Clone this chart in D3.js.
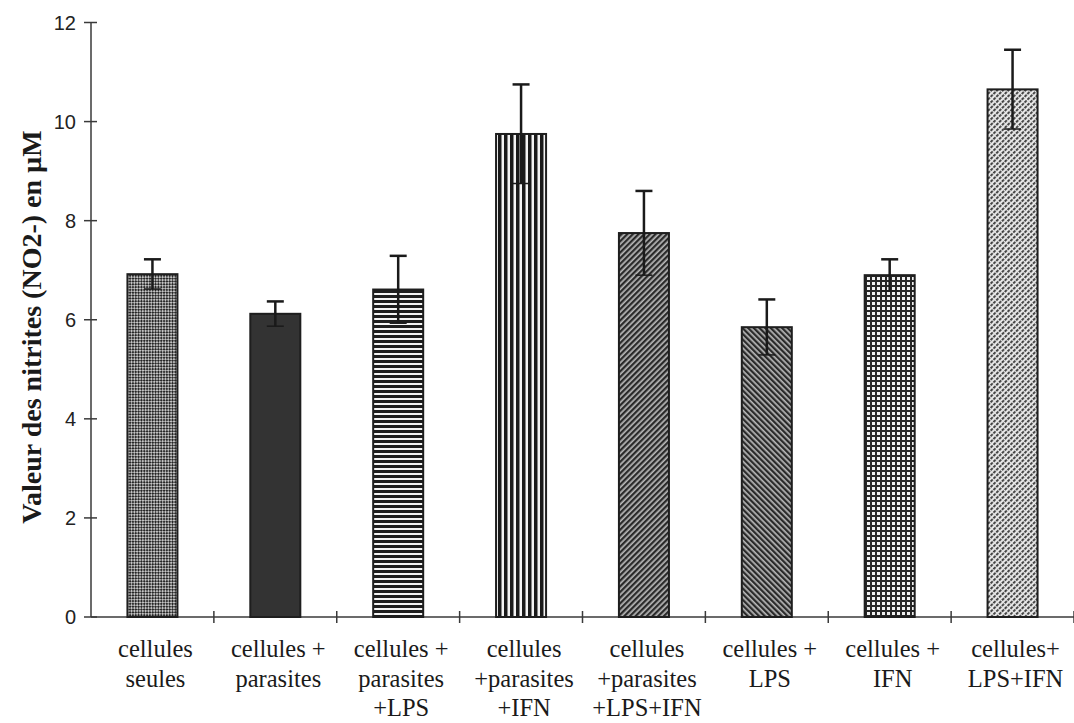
<!DOCTYPE html>
<html><head><meta charset="utf-8">
<script src="https://cdn.jsdelivr.net/npm/d3@7"></script>
<style>html,body{margin:0;padding:0;background:#fff;}svg{display:block;}</style>
</head><body>
<svg id="chart" width="1074" height="723"></svg>
<script>
const categories = [
  ["cellules","seules"],
  ["cellules +","parasites"],
  ["cellules +","parasites","+LPS"],
  ["cellules","+parasites","+IFN"],
  ["cellules","+parasites","+LPS+IFN"],
  ["cellules +","LPS"],
  ["cellules +","IFN"],
  ["cellules+","LPS+IFN"]
];
const values = [6.92, 6.12, 6.61, 9.75, 7.75, 5.85, 6.9, 10.65];
const errors = [0.3, 0.25, 0.68, 1.0, 0.85, 0.56, 0.32, 0.8];
const yTicks = [0, 2, 4, 6, 8, 10, 12];
const patternIds = ["p1","p2","p3","p4","p5","p6","p7","p8"];
const yLabel = "Valeur des nitrites (NO2-) en \u00b5M";

const svg = d3.select("#chart");
const defs = svg.append("defs");
function pat(id, w, h, tr) {
  const p = defs.append("pattern").attr("id", id).attr("patternUnits","userSpaceOnUse")
    .attr("width", w).attr("height", h);
  if (tr) p.attr("patternTransform", tr);
  return p;
}
// p1: fine diagonal checker
let p = pat("p1", 4, 4, "rotate(45)");
p.append("rect").attr("width",4).attr("height",4).attr("fill","#c4c4c4");
p.append("rect").attr("width",2).attr("height",2).attr("fill","#262626");
p.append("rect").attr("x",2).attr("y",2).attr("width",2).attr("height",2).attr("fill","#262626");
// p2: solid dark
p = pat("p2", 4, 4);
p.append("rect").attr("width",4).attr("height",4).attr("fill","#333");
// p3: horizontal stripes
p = pat("p3", 4, 5);
p.append("rect").attr("width",4).attr("height",5).attr("fill","#f4f4f4");
p.append("rect").attr("width",4).attr("height",3).attr("fill","#1e1e1e");
// p4: vertical stripes
p = pat("p4", 6, 4);
p.append("rect").attr("width",6).attr("height",4).attr("fill","#f4f4f4");
p.append("rect").attr("width",3.5).attr("height",4).attr("fill","#1a1a1a");
// p5: diagonal "/"
p = pat("p5", 4, 4, "rotate(45)");
p.append("rect").attr("width",4).attr("height",4).attr("fill","#b8b8b8");
p.append("rect").attr("width",2.3).attr("height",4).attr("fill","#2a2a2a");
// p6: diagonal "\"
p = pat("p6", 4, 4, "rotate(-45)");
p.append("rect").attr("width",4).attr("height",4).attr("fill","#b8b8b8");
p.append("rect").attr("width",2.3).attr("height",4).attr("fill","#2a2a2a");
// p7: grid
p = pat("p7", 5, 5);
p.append("rect").attr("width",5).attr("height",5).attr("fill","#262626");
p.append("rect").attr("x",2).attr("y",2).attr("width",3).attr("height",3).attr("fill","#f0f0f0");
// p8: light diagonal dotted
p = pat("p8", 4, 4, "rotate(45)");
p.append("rect").attr("width",4).attr("height",4).attr("fill","#e6e6e6");
p.append("rect").attr("width",1.9).attr("height",4).attr("fill","#3c3c3c");
p.append("rect").attr("y",0).attr("width",4).attr("height",1.1).attr("fill","#e6e6e6");

const x0 = 91, x1 = 1074;
const x = d3.scaleBand().domain(d3.range(categories.length)).range([x0, x1])
  .paddingInner(0.593).paddingOuter(0.2965);
const y = d3.scaleLinear().domain([0, 12]).range([617, 22.5]);
const step = x.step();

// Axes
const axisColor = "#3a3a3a";
svg.append("line").attr("x1", x0).attr("x2", x0).attr("y1", y(12)).attr("y2", y(0))
  .attr("stroke", axisColor).attr("stroke-width", 1.5);
svg.append("line").attr("x1", x0).attr("x2", x1).attr("y1", y(0)).attr("y2", y(0))
  .attr("stroke", axisColor).attr("stroke-width", 1.5);
svg.selectAll(".yt").data(yTicks).enter().append("line")
  .attr("x1", x0 - 7).attr("x2", x0 + 6).attr("y1", d => y(d)).attr("y2", d => y(d))
  .attr("stroke", axisColor).attr("stroke-width", 1.5);
svg.selectAll(".ytl").data(yTicks).enter().append("text")
  .attr("x", 76).attr("y", d => y(d)).attr("dy", "0.36em")
  .attr("text-anchor", "end").attr("font-family", "Liberation Sans, Arial, sans-serif")
  .attr("font-size", 20).attr("fill", "#222").text(d => d);
svg.selectAll(".xt").data(d3.range(1, categories.length + 1)).enter().append("line")
  .attr("x1", i => x0 + i * step).attr("x2", i => x0 + i * step)
  .attr("y1", y(0) - 6).attr("y2", y(0) + 6)
  .attr("stroke", axisColor).attr("stroke-width", 1.5);

// Bars
svg.selectAll(".bar").data(values).enter().append("rect")
  .attr("x", (d, i) => x(i)).attr("width", x.bandwidth())
  .attr("y", d => y(d)).attr("height", d => y(0) - y(d))
  .attr("fill", (d, i) => `url(#${patternIds[i]})`)
  .attr("stroke", "#1e1e1e").attr("stroke-width", 2);

// Error bars
const g = svg.append("g").attr("stroke", "#1a1a1a").attr("stroke-width", 2.5);
values.forEach((v, i) => {
  const cx = x(i) + x.bandwidth() / 2;
  g.append("line").attr("x1", cx).attr("x2", cx).attr("y1", y(v + errors[i])).attr("y2", y(v - errors[i]));
  g.append("line").attr("x1", cx - 8.5).attr("x2", cx + 8.5).attr("y1", y(v + errors[i])).attr("y2", y(v + errors[i]));
  g.append("line").attr("x1", cx - 8.5).attr("x2", cx + 8.5).attr("y1", y(v - errors[i])).attr("y2", y(v - errors[i])).attr("stroke-width", 1.5);
});

// Category labels
categories.forEach((lines, i) => {
  const cx = x(i) + x.bandwidth() / 2 + 3;
  const t = svg.append("text").attr("text-anchor", "middle")
    .attr("font-family", "Liberation Serif, Times New Roman, serif")
    .attr("font-size", 24.5).attr("fill", "#1a1a1a");
  lines.forEach((ln, j) => {
    t.append("tspan").attr("x", cx).attr("y", 657 + j * 29.5).text(ln);
  });
});

// Y label
svg.append("text").attr("transform", "translate(41,327) rotate(-90)")
  .attr("text-anchor", "middle").attr("font-family", "Liberation Serif, Times New Roman, serif")
  .attr("font-weight", "bold").attr("font-size", 28).attr("fill", "#1a1a1a").text(yLabel);
</script>
</body></html>
